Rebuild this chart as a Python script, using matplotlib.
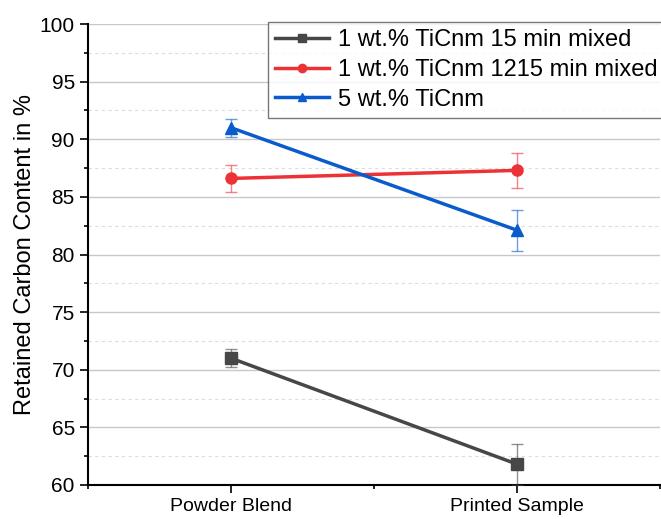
import matplotlib
matplotlib.use("Agg")
import matplotlib.pyplot as plt
from matplotlib.lines import Line2D
from matplotlib.ticker import MultipleLocator

plt.rcParams["font.family"] = ["Liberation Sans", "DejaVu Sans"]

categories = ["Powder Blend", "Printed Sample"]
labels = ["1 wt.% TiCnm 15 min mixed",
          "1 wt.% TiCnm 1215 min mixed",
          "5 wt.% TiCnm"]
values_15 = [71.0, 61.8]
err_15 = [0.8, 1.8]
values_1215 = [86.6, 87.3]
err_1215 = [1.2, 1.5]
values_5 = [91.0, 82.1]
err_5 = [0.8, 1.8]

colors = ["#474747", "#ec3237", "#0a5ccc"]
markers = ["s", "o", "^"]

fig = plt.figure(figsize=(6.61, 5.19), dpi=100)
ax = fig.add_axes([88 / 661, 34 / 519, 1 - 88 / 661 - 0.001, (485 - 24) / 519])

x = [1, 2]
series = [(values_15, err_15), (values_1215, err_1215), (values_5, err_5)]
handles = []
for (vals, errs), c, m, lab in zip(series, colors, markers, labels):
    eb = ax.errorbar(x, vals, yerr=errs, color=c, marker=m, markersize=8,
                     linewidth=2.5, ecolor=c, elinewidth=1,
                     capsize=4, capthick=1, zorder=3)
    for bar in eb[2]:
        bar.set_alpha(0.6)
    for cap in eb[1]:
        cap.set_alpha(0.6)
    handles.append(Line2D([], [], color=c, marker=m, markersize=6,
                          linewidth=2.5, label=lab))

ax.set_xlim(0.5, 2.5)
ax.set_ylim(60, 100)
ax.set_xticks(x)
ax.set_xticklabels(categories)
ax.xaxis.set_minor_locator(MultipleLocator(0.5))
ax.yaxis.set_major_locator(MultipleLocator(5))
ax.yaxis.set_minor_locator(MultipleLocator(2.5))
ax.grid(axis="y", which="major", color="#c8c8c8", linewidth=1, zorder=0)
ax.grid(axis="y", which="minor", color="#dddddd", linewidth=0.8,
        linestyle=(0, (3, 3)), zorder=0)
ax.set_axisbelow(True)
ax.tick_params(axis="both", which="major", labelsize=14, length=6,
               width=1.2, direction="out")
ax.tick_params(axis="y", which="major", labelsize=15)
ax.tick_params(axis="both", which="minor", length=3, width=1.2)
for s in ["left", "bottom"]:
    ax.spines[s].set_linewidth(1.5)
ax.spines["top"].set_visible(False)
ax.spines["right"].set_visible(False)

ax.set_ylabel("Retained Carbon Content in %", fontsize=17, labelpad=3)

leg = ax.legend(handles=handles, loc="upper left",
                bbox_to_anchor=(268 / 661, 1 - 22 / 519),
                bbox_transform=fig.transFigure,
                fontsize=17, frameon=True, fancybox=False,
                edgecolor="#555555", handlelength=2.3, handletextpad=0.35,
                borderpad=0.3, labelspacing=0.33, borderaxespad=0)
leg.get_frame().set_linewidth(1)

fig.savefig("out.png", dpi=100)
